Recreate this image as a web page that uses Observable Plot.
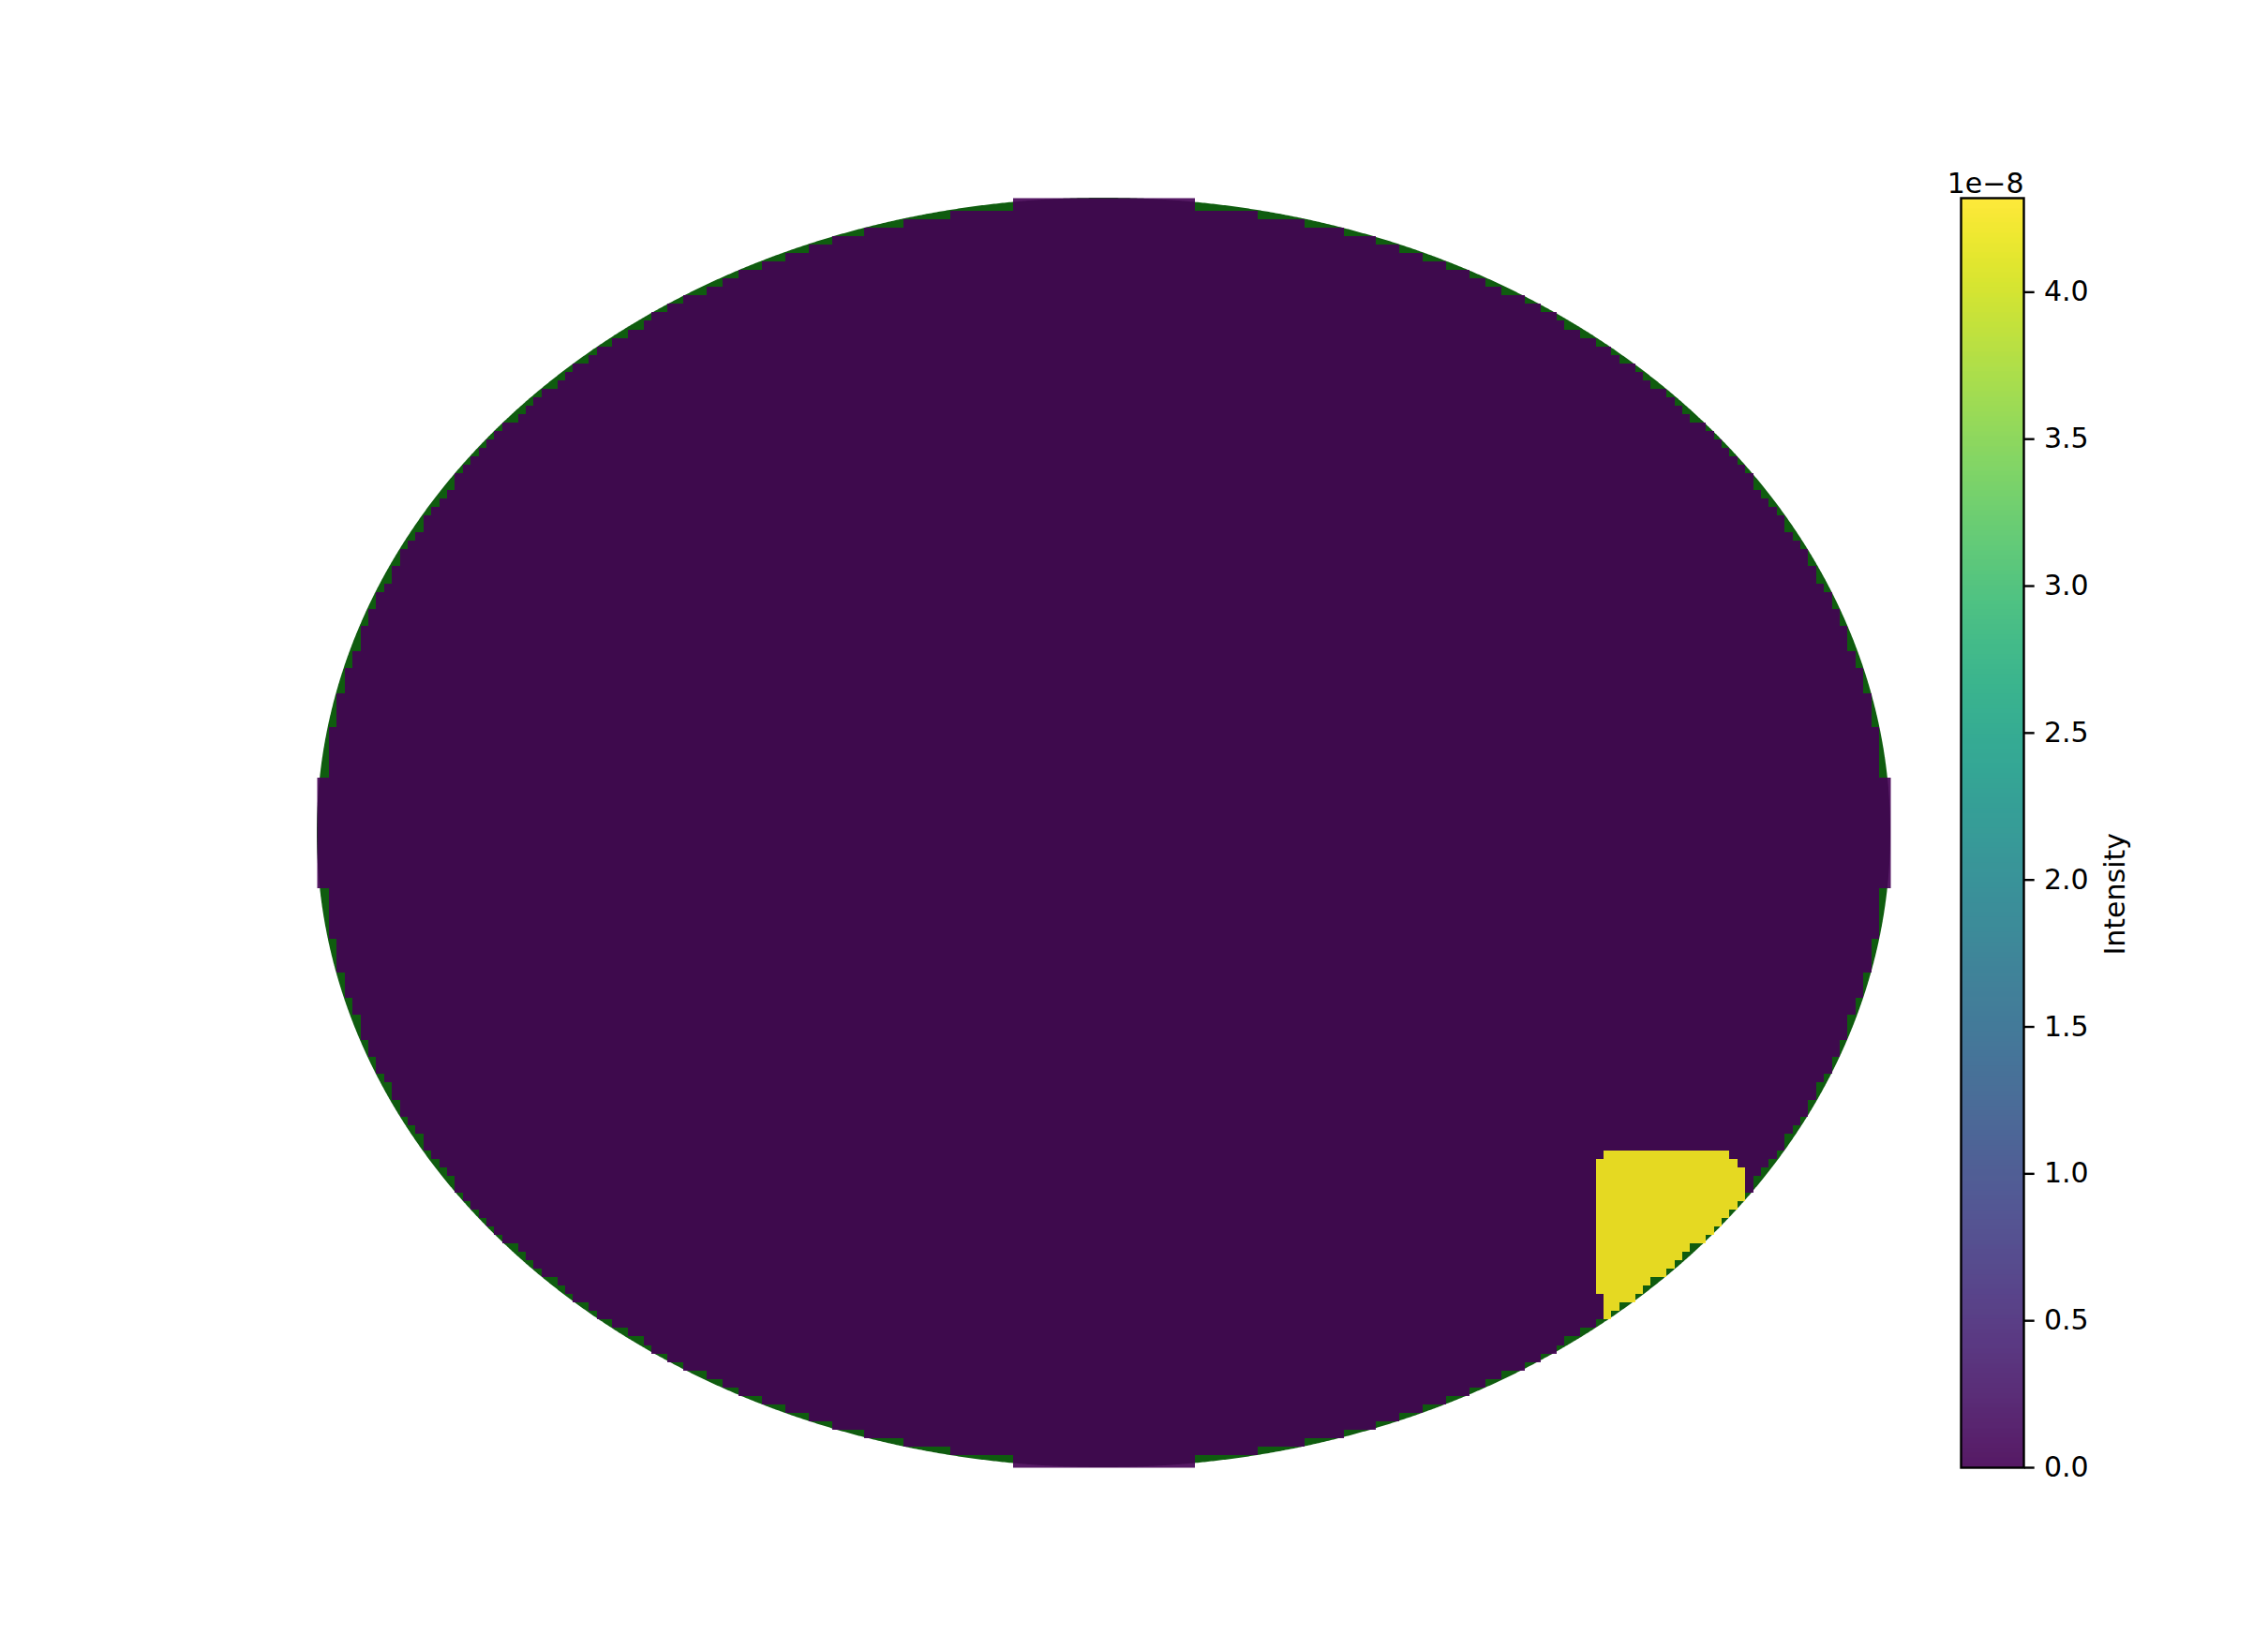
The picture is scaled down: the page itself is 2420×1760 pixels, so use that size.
<!DOCTYPE html>
<html><head><meta charset="utf-8">
<script src="https://cdn.jsdelivr.net/npm/d3@7"></script>
<script src="https://cdn.jsdelivr.net/npm/@observablehq/plot@0.6"></script>
<style>
html,body{margin:0;padding:0;background:#fff;}
#wrap{position:relative;width:2420px;height:1760px;font-family:"DejaVu Sans";}
#wrap svg{position:absolute;left:0;top:0;}
</style></head><body><div id="wrap"></div>
<script>
// ---- data ----
const gridCols = 199;            // sample columns (outermost cells drawn 1.5x wide)
const gridRows = 149;            // sample rows
const maskRadius = 0.9936;       // samples inside this normalized ellipse are drawn
const backgroundIntensity = 0;   // everywhere inside the domain
const blobIntensity = 4.32e-8;   // bright patch, lower right
const colorMax = 4.32e-8;        // colorbar top
// [row, firstCol, lastCol] of the bright patch (clipped by the domain)
const blobSpans = [
  [112,163,178],[113,162,179],[114,162,180],[115,162,180],[116,162,180],
  [117,162,180],[118,162,180],[119,162,180],[120,162,180],[121,162,180],
  [122,162,180],[123,162,180],[124,162,180],[125,162,180],[126,162,180],
  [127,162,180],[128,162,180],[129,163,180],[130,163,180],[131,163,180]
];
const colorbarTicks = [0.0,0.5,1.0,1.5,2.0,2.5,3.0,3.5,4.0]; // ×1e-8
const colorbarExponent = "1e\u22128";
const colorbarLabel = "Intensity";

// ---- logical sample grid ----
const cells = new Array(gridCols*gridRows).fill(null);
for (let i = 0; i < gridRows; ++i) {
  const ys = -1 + (i + 1) * 2 / (gridRows + 1);
  for (let j = 0; j < gridCols; ++j) {
    const xs = -1 + (j + 1) * 2 / (gridCols + 1);
    if (xs*xs + ys*ys <= maskRadius*maskRadius) cells[i*gridCols + j] = backgroundIntensity;
  }
}
for (const [r, c0, c1] of blobSpans) {
  for (let j = c0; j <= c1; ++j) {
    const k = r*gridCols + j;
    if (cells[k] !== null) cells[k] = blobIntensity;
  }
}
// ---- expand to half-cell raster (edge cells 3 half-cells, interior 2) ----
const RW = 2*gridCols + 2, RH = 2*gridRows + 2;
const toLogical = (k, n) => k < 3 ? 0 : (k >= 2*n - 1 ? n - 1 : Math.floor((k - 1) / 2));
const values = new Array(RW*RH);
for (let ky = 0; ky < RH; ++ky) {
  const i = toLogical(ky, gridRows);
  for (let kx = 0; kx < RW; ++kx) {
    values[ky*RW + kx] = cells[i*gridCols + toLogical(kx, gridCols)];
  }
}
const ellipsePts = d3.range(0, 1441).map(k => {
  const t = Math.PI * k / 1440;
  return {x: Math.cos(t), lo: -Math.sin(t), hi: Math.sin(t)};
});

const W = 2420, H = 1760;
const main = Plot.plot({
  width: W, height: H,
  marginLeft: 338, marginRight: W - 2017, marginTop: 211, marginBottom: H - 1566,
  x: {domain: [-1, 1], axis: null},
  y: {domain: [1, -1], axis: null},
  color: {type: "linear", scheme: "viridis", domain: [0, colorMax]},
  style: {background: "transparent"},
  marks: [
    Plot.areaY(ellipsePts, {x: "x", y1: "lo", y2: "hi", fill: "#0f5c0f"}),
    Plot.raster(values, {width: RW, height: RH, x1: -1, x2: 1, y1: -1, y2: 1,
      fill: Plot.identity, imageRendering: "pixelated", fillOpacity: 0.9})
  ]
});

const cbar = Plot.plot({
  width: W, height: H,
  marginLeft: 2092, marginRight: W - 2159, marginTop: 211, marginBottom: H - 1566,
  x: {domain: [0, 1], axis: null},
  y: {domain: [0, colorMax], axis: null},
  color: {type: "linear", scheme: "viridis", domain: [0, colorMax]},
  style: {background: "transparent", fontFamily: "DejaVu Sans", fontSize: "30px", color: "black"},
  marks: [
    Plot.raster({fill: (x, y) => y, x1: 0, x2: 1, y1: 0, y2: colorMax, fillOpacity: 0.9}),
    Plot.frame({stroke: "black", strokeWidth: 2.4}),
    Plot.axisY(colorbarTicks.map(t => t * 1e-8), {anchor: "right", tickSize: 10.7, tickPadding: 10.7,
      strokeWidth: 2.4, tickFormat: d => (d / 1e-8).toFixed(1), fontSize: 30, label: null}),
    Plot.text([colorbarExponent], {frameAnchor: "top-right", textAnchor: "end", lineAnchor: "bottom", dy: -6, fontSize: 30, fill: "black"}),
    Plot.text([colorbarLabel], {frameAnchor: "right", rotate: -90, dx: 98, fontSize: 30, fill: "black"})
  ]
});

const wrap = document.getElementById("wrap");
wrap.appendChild(main);
wrap.appendChild(cbar);
</script></body></html>
